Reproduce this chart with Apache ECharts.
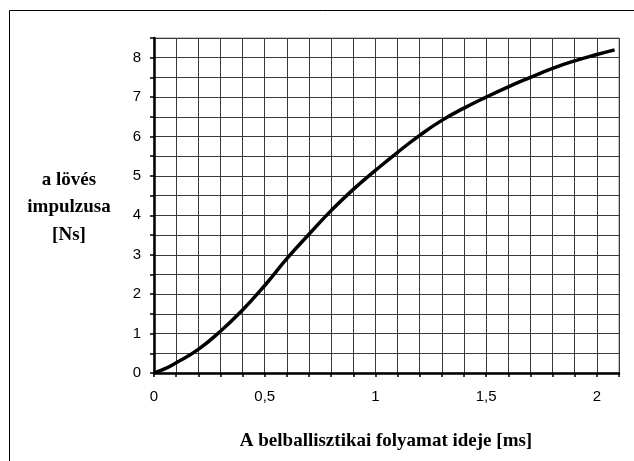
<!DOCTYPE html>
<html>
<head>
<meta charset="utf-8">
<script src="https://cdn.jsdelivr.net/npm/echarts@6/dist/echarts.min.js"></script>
<style>
html,body{margin:0;padding:0;background:#fff;}
#chart{width:634px;height:461px;}
</style>
</head>
<body>
<div id="chart"></div>
<script>
// time [ms]
var timeMs = [0, 0.05, 0.1, 0.2, 0.3, 0.4, 0.5, 0.6, 0.7, 0.8, 0.9, 1.0, 1.1, 1.2, 1.3, 1.4, 1.5, 1.6, 1.7, 1.8, 1.9, 2.0, 2.08];
// impulse [Ns]
var impulse = [0, 0.11, 0.26, 0.6, 1.06, 1.6, 2.22, 2.9, 3.52, 4.12, 4.66, 5.14, 5.6, 6.03, 6.41, 6.72, 7.0, 7.26, 7.5, 7.73, 7.92, 8.08, 8.2];
var xTickLabels = ['0', '0,5', '1', '1,5', '2'];
var yTickLabels = ['0', '1', '2', '3', '4', '5', '6', '7', '8'];
var xTitle = 'A belballisztikai folyamat ideje [ms]';
var yTitleLines = ['a lövés', 'impulzusa', '[Ns]'];

var pts = timeMs.map(function (t, i) { return [t, impulse[i]]; });

var chart = echarts.init(document.getElementById('chart'));
var titleFont = 'bold 19px "Liberation Serif", "Times New Roman", serif';
chart.setOption({
  animation: false,
  backgroundColor: '#fff',
  grid: { left: 154, right: 15, top: 38, bottom: 88, show: true, borderColor: '#888', borderWidth: 1 },
  xAxis: {
    type: 'value', min: 0, max: 2.1, interval: 0.1,
    axisLine: { show: true, onZero: false, lineStyle: { color: '#000', width: 2.5 } },
    axisTick: { show: true, length: 4, lineStyle: { color: '#000', width: 1.5 } },
    axisLabel: {
      color: '#000', fontFamily: 'Liberation Sans, Arial', fontSize: 15, margin: 16,
      formatter: function (v) {
        var k = Math.round(v * 10);
        if (k % 5 !== 0) return '';
        return xTickLabels[k / 5] || '';
      }
    },
    splitLine: { show: true, lineStyle: { color: '#3a3a3a', width: 1 } }
  },
  yAxis: {
    type: 'value', min: 0, max: 8.5, interval: 0.5,
    axisLine: { show: true, onZero: false, lineStyle: { color: '#000', width: 2.5 } },
    axisTick: { show: true, length: 4, lineStyle: { color: '#000', width: 1.5 } },
    axisLabel: {
      color: '#000', fontFamily: 'Liberation Sans, Arial', fontSize: 15, margin: 13,
      formatter: function (v) {
        var k = Math.round(v * 2);
        if (k % 2 !== 0) return '';
        return yTickLabels[k / 2] || '';
      }
    },
    splitLine: { show: true, lineStyle: { color: '#3a3a3a', width: 1 } }
  },
  graphic: [
    { type: 'rect', shape: { x: 9.5, y: 10.5, width: 640, height: 460 }, style: { fill: 'none', stroke: '#000', lineWidth: 1 }, silent: true, z: -1 },
    { type: 'text', style: { text: xTitle, x: 386, y: 441, textAlign: 'center', textVerticalAlign: 'middle', font: titleFont, fill: '#000' } },
    { type: 'text', style: { text: yTitleLines[0], x: 69, y: 180, textAlign: 'center', textVerticalAlign: 'middle', font: titleFont, fill: '#000' } },
    { type: 'text', style: { text: yTitleLines[1], x: 69, y: 207, textAlign: 'center', textVerticalAlign: 'middle', font: titleFont, fill: '#000' } },
    { type: 'text', style: { text: yTitleLines[2], x: 69, y: 235, textAlign: 'center', textVerticalAlign: 'middle', font: titleFont, fill: '#000' } }
  ],
  series: [{
    type: 'line', data: pts, smooth: 0.5, showSymbol: false,
    lineStyle: { color: '#000', width: 3.5 }, z: 5
  }]
});
</script>
</body>
</html>
